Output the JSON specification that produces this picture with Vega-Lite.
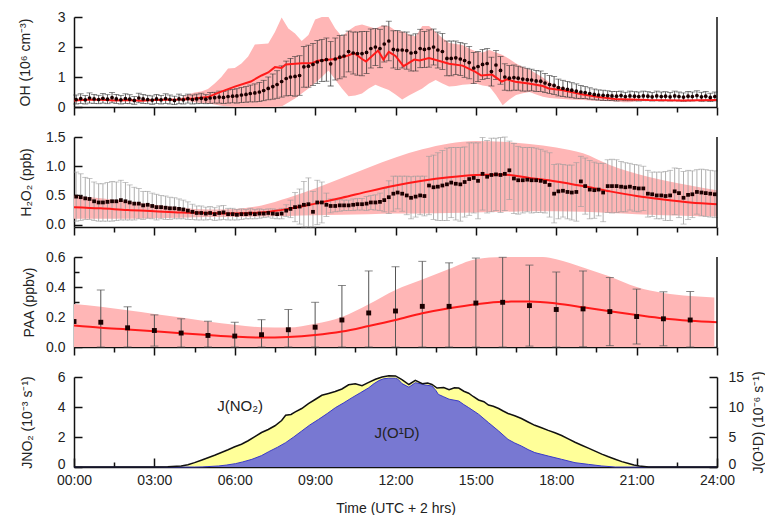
{
"$schema":"https://vega.github.io/schema/vega-lite/v6.json",
"background":"white",
"padding":{"left":18,"top":10,"right":0,"bottom":0},
"autosize":{"type":"pad"},
"config":{"font":"Liberation Sans","view":{"stroke":null},"axis":{"grid":false,"domainColor":"#111111","domainWidth":1.5,"tickColor":"#111111","tickWidth":1.5,"labelFont":"Liberation Sans","labelFontSize":14,"labelColor":"#222222","titleFont":"Liberation Sans","titleFontSize":14,"titleFontWeight":"normal","titleColor":"#222222","zindex":1}},
"datasets":{
"oh":[
{"t":0.08,"v":0.25,"sd":0.15},{"t":0.25,"v":0.28,"sd":0.16},{"t":0.42,"v":0.24,"sd":0.14},{"t":0.58,"v":0.30,"sd":0.17},{"t":0.75,"v":0.27,"sd":0.15},{"t":0.92,"v":0.25,"sd":0.14},
{"t":1.08,"v":0.29,"sd":0.16},{"t":1.25,"v":0.26,"sd":0.15},{"t":1.42,"v":0.31,"sd":0.17},{"t":1.58,"v":0.27,"sd":0.15},{"t":1.75,"v":0.24,"sd":0.14},{"t":1.92,"v":0.28,"sd":0.16},
{"t":2.08,"v":0.26,"sd":0.15},{"t":2.25,"v":0.22,"sd":0.13},{"t":2.42,"v":0.30,"sd":0.16},{"t":2.58,"v":0.27,"sd":0.15},{"t":2.75,"v":0.25,"sd":0.14},{"t":2.92,"v":0.23,"sd":0.14},
{"t":3.08,"v":0.27,"sd":0.15},{"t":3.25,"v":0.24,"sd":0.14},{"t":3.42,"v":0.28,"sd":0.16},{"t":3.58,"v":0.25,"sd":0.15},{"t":3.75,"v":0.22,"sd":0.14},{"t":3.92,"v":0.27,"sd":0.16},
{"t":4.08,"v":0.24,"sd":0.14},{"t":4.25,"v":0.28,"sd":0.15},{"t":4.42,"v":0.25,"sd":0.15},{"t":4.58,"v":0.27,"sd":0.16},{"t":4.75,"v":0.29,"sd":0.17},{"t":4.92,"v":0.26,"sd":0.15},
{"t":5.08,"v":0.30,"sd":0.18},{"t":5.25,"v":0.31,"sd":0.18},{"t":5.42,"v":0.33,"sd":0.20},{"t":5.58,"v":0.32,"sd":0.20},{"t":5.75,"v":0.35,"sd":0.22},{"t":5.92,"v":0.36,"sd":0.22},
{"t":6.08,"v":0.37,"sd":0.24},{"t":6.25,"v":0.40,"sd":0.25},{"t":6.42,"v":0.42,"sd":0.26},{"t":6.58,"v":0.45,"sd":0.28},{"t":6.75,"v":0.47,"sd":0.30},{"t":6.92,"v":0.50,"sd":0.32},
{"t":7.08,"v":0.55,"sd":0.34},{"t":7.25,"v":0.62,"sd":0.38},{"t":7.42,"v":0.68,"sd":0.42},{"t":7.58,"v":0.75,"sd":0.46},{"t":7.75,"v":0.85,"sd":0.52},{"t":7.92,"v":0.95,"sd":0.58},
{"t":8.08,"v":1.00,"sd":0.62},{"t":8.25,"v":1.02,"sd":0.66},{"t":8.42,"v":1.05,"sd":0.66},{"t":8.58,"v":1.34,"sd":0.68},{"t":8.75,"v":1.36,"sd":0.70},{"t":8.92,"v":1.42,"sd":0.70},
{"t":9.08,"v":1.50,"sd":0.72},{"t":9.25,"v":1.55,"sd":0.70},{"t":9.42,"v":1.58,"sd":0.72},{"t":9.58,"v":1.44,"sd":0.74},{"t":9.75,"v":1.60,"sd":0.70},{"t":9.92,"v":1.66,"sd":0.72},
{"t":10.08,"v":1.70,"sd":0.70},{"t":10.25,"v":1.85,"sd":0.68},{"t":10.42,"v":1.80,"sd":0.70},{"t":10.58,"v":1.78,"sd":0.72},{"t":10.75,"v":1.78,"sd":0.74},{"t":10.92,"v":1.82,"sd":0.70},
{"t":11.08,"v":1.95,"sd":0.65},{"t":11.25,"v":2.00,"sd":0.62},{"t":11.42,"v":1.95,"sd":0.64},{"t":11.58,"v":2.10,"sd":0.60},{"t":11.75,"v":2.20,"sd":0.66},{"t":11.92,"v":1.92,"sd":0.62},
{"t":12.08,"v":1.90,"sd":0.65},{"t":12.25,"v":1.90,"sd":0.60},{"t":12.42,"v":1.88,"sd":0.62},{"t":12.58,"v":1.80,"sd":0.60},{"t":12.75,"v":1.82,"sd":0.62},{"t":12.92,"v":1.95,"sd":0.64},
{"t":13.08,"v":1.92,"sd":0.60},{"t":13.25,"v":1.95,"sd":0.62},{"t":13.42,"v":2.00,"sd":0.60},{"t":13.58,"v":1.90,"sd":0.60},{"t":13.75,"v":1.85,"sd":0.60},{"t":13.92,"v":1.62,"sd":0.58},
{"t":14.08,"v":1.62,"sd":0.58},{"t":14.25,"v":1.64,"sd":0.56},{"t":14.42,"v":1.60,"sd":0.55},{"t":14.58,"v":1.55,"sd":0.56},{"t":14.75,"v":1.48,"sd":0.54},{"t":14.92,"v":1.30,"sd":0.52},
{"t":15.08,"v":1.35,"sd":0.50},{"t":15.25,"v":1.42,"sd":0.50},{"t":15.42,"v":1.45,"sd":0.50},{"t":15.58,"v":1.18,"sd":0.48},{"t":15.75,"v":1.40,"sd":0.48},{"t":15.92,"v":1.22,"sd":0.46},
{"t":16.08,"v":1.00,"sd":0.44},{"t":16.25,"v":0.96,"sd":0.42},{"t":16.42,"v":0.98,"sd":0.42},{"t":16.58,"v":0.96,"sd":0.40},{"t":16.75,"v":0.93,"sd":0.40},{"t":16.92,"v":0.91,"sd":0.38},
{"t":17.08,"v":0.90,"sd":0.36},{"t":17.25,"v":0.87,"sd":0.35},{"t":17.42,"v":0.86,"sd":0.34},{"t":17.58,"v":0.80,"sd":0.32},{"t":17.75,"v":0.75,"sd":0.30},{"t":17.92,"v":0.72,"sd":0.30},
{"t":18.08,"v":0.65,"sd":0.28},{"t":18.25,"v":0.62,"sd":0.27},{"t":18.42,"v":0.59,"sd":0.26},{"t":18.58,"v":0.56,"sd":0.25},{"t":18.75,"v":0.53,"sd":0.24},{"t":18.92,"v":0.50,"sd":0.22},
{"t":19.08,"v":0.48,"sd":0.20},{"t":19.25,"v":0.45,"sd":0.19},{"t":19.42,"v":0.42,"sd":0.18},{"t":19.58,"v":0.40,"sd":0.17},{"t":19.75,"v":0.39,"sd":0.17},{"t":19.92,"v":0.38,"sd":0.16},
{"t":20.08,"v":0.37,"sd":0.15},{"t":20.25,"v":0.36,"sd":0.16},{"t":20.42,"v":0.38,"sd":0.15},{"t":20.58,"v":0.35,"sd":0.14},{"t":20.75,"v":0.37,"sd":0.16},{"t":20.92,"v":0.36,"sd":0.15},
{"t":21.08,"v":0.35,"sd":0.15},{"t":21.25,"v":0.37,"sd":0.16},{"t":21.42,"v":0.36,"sd":0.15},{"t":21.58,"v":0.34,"sd":0.14},{"t":21.75,"v":0.37,"sd":0.16},{"t":21.92,"v":0.35,"sd":0.15},
{"t":22.08,"v":0.36,"sd":0.15},{"t":22.25,"v":0.34,"sd":0.14},{"t":22.42,"v":0.37,"sd":0.16},{"t":22.58,"v":0.35,"sd":0.15},{"t":22.75,"v":0.33,"sd":0.14},{"t":22.92,"v":0.36,"sd":0.16},
{"t":23.08,"v":0.35,"sd":0.15},{"t":23.25,"v":0.38,"sd":0.16},{"t":23.42,"v":0.34,"sd":0.15},{"t":23.58,"v":0.36,"sd":0.16},{"t":23.75,"v":0.32,"sd":0.14},{"t":23.92,"v":0.35,"sd":0.15}
],
"ohline":[
{"t":0,"v":0.22},{"t":0.5,"v":0.24},{"t":1,"v":0.24},{"t":1.5,"v":0.22},{"t":2,"v":0.23},{"t":2.5,"v":0.21},{"t":3,"v":0.23},{"t":3.5,"v":0.24},{"t":4,"v":0.25},{"t":4.5,"v":0.28},{"t":5,"v":0.33},{"t":5.4,"v":0.48},{"t":6,"v":0.68},{"t":6.6,"v":0.85},{"t":7,"v":1.05},{"t":7.25,"v":1.15},{"t":7.5,"v":1.33},{"t":7.75,"v":1.3},{"t":7.9,"v":1.42},{"t":8.5,"v":1.46},{"t":8.9,"v":1.47},{"t":9.1,"v":1.54},{"t":9.75,"v":1.6},{"t":10.25,"v":1.72},{"t":10.45,"v":1.8},{"t":10.75,"v":1.6},{"t":10.9,"v":1.52},{"t":11.35,"v":1.88},{"t":11.55,"v":1.58},{"t":11.75,"v":1.84},{"t":12,"v":1.7},{"t":12.3,"v":1.36},{"t":12.7,"v":1.58},{"t":12.9,"v":1.55},{"t":13.25,"v":1.63},{"t":14,"v":1.44},{"t":14.5,"v":1.38},{"t":14.97,"v":1.18},{"t":15.2,"v":1.05},{"t":15.6,"v":1.08},{"t":15.97,"v":0.85},{"t":16.16,"v":0.92},{"t":16.47,"v":0.84},{"t":16.97,"v":0.78},{"t":17.5,"v":0.7},{"t":17.72,"v":0.62},{"t":18.2,"v":0.57},{"t":19,"v":0.42},{"t":19.6,"v":0.33},{"t":20.2,"v":0.27},{"t":21.45,"v":0.23},{"t":22.7,"v":0.22},{"t":24,"v":0.23}
],
"ohband":[
{"t":4.0,"lo":0.22,"hi":0.30},{"t":4.25,"lo":0.20,"hi":0.42},{"t":4.5,"lo":0.16,"hi":0.48},{"t":4.75,"lo":0.13,"hi":0.52},{"t":5.0,"lo":0.12,"hi":0.60},{"t":5.25,"lo":0.08,"hi":0.78},{"t":5.5,"lo":0.04,"hi":1.00},{"t":5.75,"lo":0.02,"hi":1.28},{"t":6.0,"lo":0.0,"hi":1.30},{"t":6.25,"lo":0.0,"hi":1.45},{"t":6.5,"lo":0.0,"hi":1.68},{"t":6.75,"lo":0.0,"hi":2.08},{"t":7.0,"lo":0.0,"hi":2.10},{"t":7.25,"lo":0.0,"hi":2.12},{"t":7.5,"lo":0.0,"hi":2.50},{"t":7.75,"lo":0.02,"hi":2.98},{"t":8.0,"lo":0.15,"hi":2.62},{"t":8.25,"lo":0.28,"hi":2.45},{"t":8.5,"lo":0.45,"hi":2.20},{"t":8.75,"lo":0.62,"hi":2.40},{"t":9.0,"lo":0.80,"hi":2.92},{"t":9.25,"lo":1.00,"hi":3.0},{"t":9.5,"lo":1.22,"hi":3.0},{"t":9.75,"lo":0.92,"hi":2.62},{"t":10.0,"lo":0.62,"hi":2.35},{"t":10.25,"lo":0.36,"hi":2.55},{"t":10.5,"lo":0.38,"hi":2.70},{"t":10.75,"lo":0.45,"hi":2.75},{"t":11.0,"lo":0.62,"hi":2.68},{"t":11.25,"lo":0.74,"hi":2.62},{"t":11.5,"lo":0.65,"hi":2.72},{"t":11.75,"lo":0.57,"hi":2.70},{"t":12.0,"lo":0.42,"hi":2.55},{"t":12.25,"lo":0.25,"hi":2.52},{"t":12.5,"lo":0.38,"hi":2.42},{"t":12.75,"lo":0.50,"hi":2.35},{"t":13.0,"lo":0.62,"hi":2.70},{"t":13.25,"lo":0.78,"hi":2.70},{"t":13.5,"lo":0.90,"hi":2.50},{"t":13.75,"lo":0.78,"hi":2.30},{"t":14.0,"lo":0.68,"hi":2.13},{"t":14.25,"lo":0.70,"hi":2.10},{"t":14.5,"lo":0.74,"hi":2.07},{"t":14.75,"lo":0.76,"hi":1.95},{"t":15.0,"lo":0.78,"hi":1.85},{"t":15.25,"lo":0.72,"hi":1.82},{"t":15.5,"lo":0.68,"hi":1.90},{"t":15.75,"lo":0.40,"hi":1.82},{"t":16.0,"lo":0.06,"hi":1.73},{"t":16.25,"lo":0.25,"hi":1.60},{"t":16.5,"lo":0.40,"hi":1.45},{"t":16.75,"lo":0.46,"hi":1.33},{"t":17.0,"lo":0.50,"hi":1.25},{"t":17.25,"lo":0.42,"hi":1.12},{"t":17.5,"lo":0.34,"hi":0.98},{"t":17.75,"lo":0.30,"hi":0.82},{"t":18.0,"lo":0.28,"hi":0.72},{"t":18.25,"lo":0.27,"hi":0.64},{"t":18.5,"lo":0.25,"hi":0.56},{"t":18.75,"lo":0.24,"hi":0.50},{"t":19.0,"lo":0.23,"hi":0.45},{"t":19.25,"lo":0.22,"hi":0.40},{"t":19.5,"lo":0.21,"hi":0.34},{"t":19.75,"lo":0.20,"hi":0.30},{"t":20.0,"lo":0.19,"hi":0.27},{"t":20.25,"lo":0.18,"hi":0.25},{"t":20.5,"lo":0.16,"hi":0.23},{"t":20.75,"lo":0.16,"hi":0.22},{"t":21.0,"lo":0.19,"hi":0.21}
],
"h2o2":[
{"t":0.08,"v":0.48,"sd":0.42},{"t":0.25,"v":0.47,"sd":0.40},{"t":0.42,"v":0.45,"sd":0.36},{"t":0.58,"v":0.44,"sd":0.35},{"t":0.75,"v":0.40,"sd":0.33},{"t":0.92,"v":0.38,"sd":0.32},
{"t":1.08,"v":0.38,"sd":0.32},{"t":1.25,"v":0.39,"sd":0.33},{"t":1.42,"v":0.40,"sd":0.34},{"t":1.58,"v":0.40,"sd":0.33},{"t":1.75,"v":0.42,"sd":0.34},{"t":1.92,"v":0.40,"sd":0.32},
{"t":2.08,"v":0.38,"sd":0.30},{"t":2.25,"v":0.36,"sd":0.28},{"t":2.42,"v":0.36,"sd":0.26},{"t":2.58,"v":0.33,"sd":0.24},{"t":2.75,"v":0.34,"sd":0.23},{"t":2.92,"v":0.32,"sd":0.22},
{"t":3.08,"v":0.30,"sd":0.22},{"t":3.25,"v":0.30,"sd":0.20},{"t":3.42,"v":0.29,"sd":0.20},{"t":3.58,"v":0.28,"sd":0.19},{"t":3.75,"v":0.28,"sd":0.18},{"t":3.92,"v":0.27,"sd":0.17},
{"t":4.08,"v":0.26,"sd":0.16},{"t":4.25,"v":0.24,"sd":0.15},{"t":4.42,"v":0.22,"sd":0.13},{"t":4.58,"v":0.20,"sd":0.12},{"t":4.75,"v":0.20,"sd":0.12},{"t":4.92,"v":0.19,"sd":0.11},
{"t":5.08,"v":0.20,"sd":0.11},{"t":5.25,"v":0.18,"sd":0.11},{"t":5.42,"v":0.20,"sd":0.12},{"t":5.58,"v":0.21,"sd":0.12},{"t":5.75,"v":0.18,"sd":0.10},{"t":5.92,"v":0.18,"sd":0.10},
{"t":6.08,"v":0.17,"sd":0.09},{"t":6.25,"v":0.18,"sd":0.09},{"t":6.42,"v":0.18,"sd":0.08},{"t":6.58,"v":0.19,"sd":0.09},{"t":6.75,"v":0.18,"sd":0.08},{"t":6.92,"v":0.19,"sd":0.08},
{"t":7.08,"v":0.19,"sd":0.07},{"t":7.25,"v":0.20,"sd":0.07},{"t":7.42,"v":0.19,"sd":0.08},{"t":7.58,"v":0.18,"sd":0.08},{"t":7.75,"v":0.19,"sd":0.09},{"t":7.92,"v":0.24,"sd":0.10},
{"t":8.08,"v":0.27,"sd":0.15},{"t":8.25,"v":0.30,"sd":0.25},{"t":8.42,"v":0.31,"sd":0.30},{"t":8.58,"v":0.34,"sd":0.40},{"t":8.75,"v":0.35,"sd":0.45},{"t":8.92,"v":0.22,"sd":0.35},
{"t":9.08,"v":0.38,"sd":0.38},{"t":9.25,"v":0.38,"sd":0.35},{"t":9.42,"v":0.34,"sd":0.20},{"t":9.58,"v":0.32,"sd":0.12},{"t":9.75,"v":0.32,"sd":0.10},{"t":9.92,"v":0.33,"sd":0.10},
{"t":10.08,"v":0.33,"sd":0.09},{"t":10.25,"v":0.33,"sd":0.09},{"t":10.42,"v":0.34,"sd":0.10},{"t":10.58,"v":0.35,"sd":0.10},{"t":10.75,"v":0.35,"sd":0.10},{"t":10.92,"v":0.36,"sd":0.12},
{"t":11.08,"v":0.38,"sd":0.12},{"t":11.25,"v":0.38,"sd":0.13},{"t":11.42,"v":0.39,"sd":0.15},{"t":11.58,"v":0.42,"sd":0.20},{"t":11.75,"v":0.47,"sd":0.28},{"t":11.92,"v":0.53,"sd":0.30},
{"t":12.08,"v":0.55,"sd":0.28},{"t":12.25,"v":0.53,"sd":0.30},{"t":12.42,"v":0.50,"sd":0.33},{"t":12.58,"v":0.46,"sd":0.36},{"t":12.75,"v":0.48,"sd":0.35},{"t":12.92,"v":0.50,"sd":0.33},
{"t":13.08,"v":0.49,"sd":0.34},{"t":13.25,"v":0.67,"sd":0.50},{"t":13.42,"v":0.64,"sd":0.55},{"t":13.58,"v":0.65,"sd":0.58},{"t":13.75,"v":0.67,"sd":0.60},{"t":13.92,"v":0.69,"sd":0.62},
{"t":14.08,"v":0.72,"sd":0.60},{"t":14.25,"v":0.70,"sd":0.62},{"t":14.42,"v":0.69,"sd":0.63},{"t":14.58,"v":0.73,"sd":0.60},{"t":14.75,"v":0.78,"sd":0.62},{"t":14.92,"v":0.80,"sd":0.60},
{"t":15.08,"v":0.75,"sd":0.65},{"t":15.25,"v":0.87,"sd":0.62},{"t":15.42,"v":0.82,"sd":0.62},{"t":15.58,"v":0.85,"sd":0.63},{"t":15.75,"v":0.86,"sd":0.62},{"t":15.92,"v":0.85,"sd":0.64},
{"t":16.08,"v":0.87,"sd":0.63},{"t":16.25,"v":0.93,"sd":0.50},{"t":16.42,"v":0.79,"sd":0.60},{"t":16.58,"v":0.76,"sd":0.58},{"t":16.75,"v":0.76,"sd":0.56},{"t":16.92,"v":0.77,"sd":0.55},
{"t":17.08,"v":0.76,"sd":0.56},{"t":17.25,"v":0.76,"sd":0.55},{"t":17.42,"v":0.75,"sd":0.54},{"t":17.58,"v":0.73,"sd":0.53},{"t":17.75,"v":0.68,"sd":0.55},{"t":17.92,"v":0.53,"sd":0.50},
{"t":18.08,"v":0.57,"sd":0.47},{"t":18.25,"v":0.58,"sd":0.45},{"t":18.42,"v":0.56,"sd":0.46},{"t":18.58,"v":0.55,"sd":0.47},{"t":18.75,"v":0.56,"sd":0.50},{"t":18.92,"v":0.74,"sd":0.43},
{"t":19.08,"v":0.66,"sd":0.48},{"t":19.25,"v":0.60,"sd":0.50},{"t":19.42,"v":0.59,"sd":0.48},{"t":19.58,"v":0.60,"sd":0.45},{"t":19.75,"v":0.55,"sd":0.50},{"t":19.92,"v":0.66,"sd":0.45},
{"t":20.08,"v":0.66,"sd":0.46},{"t":20.25,"v":0.66,"sd":0.45},{"t":20.42,"v":0.65,"sd":0.43},{"t":20.58,"v":0.64,"sd":0.42},{"t":20.75,"v":0.65,"sd":0.40},{"t":20.92,"v":0.63,"sd":0.40},
{"t":21.08,"v":0.62,"sd":0.40},{"t":21.25,"v":0.62,"sd":0.38},{"t":21.42,"v":0.53,"sd":0.40},{"t":21.58,"v":0.52,"sd":0.38},{"t":21.75,"v":0.50,"sd":0.40},{"t":21.92,"v":0.50,"sd":0.40},
{"t":22.08,"v":0.49,"sd":0.42},{"t":22.25,"v":0.50,"sd":0.43},{"t":22.42,"v":0.57,"sd":0.40},{"t":22.58,"v":0.54,"sd":0.42},{"t":22.75,"v":0.46,"sd":0.45},{"t":22.92,"v":0.51,"sd":0.42},
{"t":23.08,"v":0.52,"sd":0.40},{"t":23.25,"v":0.56,"sd":0.38},{"t":23.42,"v":0.55,"sd":0.40},{"t":23.58,"v":0.54,"sd":0.40},{"t":23.75,"v":0.53,"sd":0.40},{"t":23.92,"v":0.52,"sd":0.40}
],
"h2o2line":[
{"t":0,"v":0.30},{"t":1,"v":0.28},{"t":2,"v":0.25},{"t":3,"v":0.23},{"t":4,"v":0.21},{"t":5,"v":0.20},{"t":6,"v":0.19},{"t":7,"v":0.21},{"t":8,"v":0.27},{"t":9,"v":0.36},{"t":10,"v":0.46},{"t":11,"v":0.57},{"t":12,"v":0.67},{"t":13,"v":0.75},{"t":14,"v":0.81},{"t":15,"v":0.85},{"t":16,"v":0.86},{"t":17,"v":0.80},{"t":18,"v":0.74},{"t":19,"v":0.66},{"t":20,"v":0.57},{"t":21,"v":0.49},{"t":22,"v":0.43},{"t":23,"v":0.38},{"t":24,"v":0.35}
],
"h2o2band":[
{"t":0,"lo":0.10,"hi":0.50},{"t":1,"lo":0.10,"hi":0.45},{"t":2,"lo":0.10,"hi":0.40},{"t":3,"lo":0.11,"hi":0.34},{"t":4,"lo":0.12,"hi":0.29},{"t":5,"lo":0.13,"hi":0.26},{"t":6,"lo":0.13,"hi":0.27},{"t":7,"lo":0.14,"hi":0.33},{"t":8,"lo":0.15,"hi":0.46},{"t":9,"lo":0.16,"hi":0.62},{"t":10,"lo":0.17,"hi":0.80},{"t":11,"lo":0.18,"hi":0.98},{"t":12,"lo":0.19,"hi":1.15},{"t":13,"lo":0.19,"hi":1.29},{"t":14,"lo":0.20,"hi":1.39},{"t":15,"lo":0.21,"hi":1.43},{"t":16,"lo":0.22,"hi":1.42},{"t":17,"lo":0.23,"hi":1.38},{"t":18,"lo":0.23,"hi":1.32},{"t":19,"lo":0.22,"hi":1.22},{"t":20,"lo":0.20,"hi":1.02},{"t":21,"lo":0.18,"hi":0.87},{"t":22,"lo":0.16,"hi":0.76},{"t":23,"lo":0.15,"hi":0.67},{"t":24,"lo":0.14,"hi":0.59}
],
"paa":[
{"t":0,"v":0.17,"sd":0},{"t":1,"v":0.165,"sd":0.215},{"t":2,"v":0.128,"sd":0.14},{"t":3,"v":0.11,"sd":0.104},{"t":4,"v":0.093,"sd":0.095},{"t":5,"v":0.077,"sd":0.095},{"t":6,"v":0.073,"sd":0.092},{"t":7,"v":0.082,"sd":0.10},{"t":8,"v":0.115,"sd":0.135},{"t":9,"v":0.132,"sd":0.166},{"t":10,"v":0.18,"sd":0.23},{"t":11,"v":0.227,"sd":0.28},{"t":12,"v":0.24,"sd":0.295},{"t":13,"v":0.271,"sd":0.30},{"t":14,"v":0.271,"sd":0.29},{"t":15,"v":0.293,"sd":0.30},{"t":16,"v":0.298,"sd":0.30},{"t":17,"v":0.276,"sd":0.27},{"t":18,"v":0.25,"sd":0.25},{"t":19,"v":0.254,"sd":0.253},{"t":20,"v":0.236,"sd":0.227},{"t":21,"v":0.203,"sd":0.183},{"t":22,"v":0.188,"sd":0.18},{"t":23,"v":0.18,"sd":0.19}
],
"paaline":[
{"t":0,"v":0.143},{"t":1,"v":0.128},{"t":2,"v":0.117},{"t":3,"v":0.105},{"t":4,"v":0.092},{"t":5,"v":0.08},{"t":6,"v":0.069},{"t":7,"v":0.063},{"t":8,"v":0.067},{"t":9,"v":0.08},{"t":10,"v":0.103},{"t":11,"v":0.14},{"t":12,"v":0.18},{"t":13,"v":0.225},{"t":14,"v":0.258},{"t":15,"v":0.285},{"t":16,"v":0.302},{"t":17,"v":0.303},{"t":18,"v":0.29},{"t":19,"v":0.265},{"t":20,"v":0.238},{"t":21,"v":0.213},{"t":22,"v":0.19},{"t":23,"v":0.175},{"t":24,"v":0.165}
],
"paaband":[
{"t":0,"lo":0,"hi":0.287},{"t":1,"lo":0,"hi":0.268},{"t":2,"lo":0,"hi":0.245},{"t":3,"lo":0,"hi":0.22},{"t":4,"lo":0,"hi":0.196},{"t":5,"lo":0,"hi":0.17},{"t":6,"lo":0,"hi":0.148},{"t":7,"lo":0,"hi":0.132},{"t":8,"lo":0,"hi":0.13},{"t":9,"lo":0,"hi":0.155},{"t":10,"lo":0,"hi":0.2},{"t":11,"lo":0,"hi":0.285},{"t":12,"lo":0,"hi":0.38},{"t":13,"lo":0,"hi":0.45},{"t":14,"lo":0,"hi":0.52},{"t":15,"lo":0,"hi":0.585},{"t":16,"lo":0,"hi":0.6},{"t":17,"lo":0,"hi":0.6},{"t":17.5,"lo":0,"hi":0.6},{"t":18,"lo":0,"hi":0.585},{"t":18.5,"lo":0,"hi":0.56},{"t":19,"lo":0,"hi":0.53},{"t":20,"lo":0,"hi":0.47},{"t":21,"lo":0,"hi":0.4},{"t":22,"lo":0,"hi":0.36},{"t":23,"lo":0,"hi":0.34},{"t":23.9,"lo":0,"hi":0.33}
],
"jno2":[
{"t":0,"v":0},{"t":3.0,"v":0},{"t":3.5,"v":0.01},{"t":4.0,"v":0.07},{"t":4.25,"v":0.15},{"t":4.5,"v":0.29},{"t":4.75,"v":0.45},{"t":5.0,"v":0.62},{"t":5.25,"v":0.78},{"t":5.5,"v":0.97},{"t":5.75,"v":1.15},{"t":6.0,"v":1.35},{"t":6.25,"v":1.52},{"t":6.5,"v":1.75},{"t":6.75,"v":2.02},{"t":7.0,"v":2.3},{"t":7.25,"v":2.5},{"t":7.5,"v":2.75},{"t":7.75,"v":3.1},{"t":7.9,"v":3.45},{"t":8.1,"v":3.5},{"t":8.26,"v":3.68},{"t":8.5,"v":3.9},{"t":8.75,"v":4.22},{"t":9.0,"v":4.5},{"t":9.25,"v":4.78},{"t":9.5,"v":4.9},{"t":9.75,"v":5.03},{"t":10.0,"v":5.2},{"t":10.25,"v":5.48},{"t":10.5,"v":5.55},{"t":10.75,"v":5.42},{"t":11.0,"v":5.64},{"t":11.25,"v":5.85},{"t":11.5,"v":6.0},{"t":11.75,"v":6.08},{"t":12.0,"v":6.07},{"t":12.24,"v":5.82},{"t":12.5,"v":5.5},{"t":12.74,"v":5.78},{"t":13.0,"v":5.55},{"t":13.2,"v":5.6},{"t":13.36,"v":5.5},{"t":13.55,"v":5.26},{"t":13.8,"v":5.3},{"t":14.0,"v":5.15},{"t":14.2,"v":5.28},{"t":14.36,"v":5.26},{"t":14.55,"v":5.05},{"t":14.73,"v":4.92},{"t":14.9,"v":4.7},{"t":15.1,"v":4.47},{"t":15.3,"v":4.35},{"t":15.47,"v":4.13},{"t":15.65,"v":4.05},{"t":15.85,"v":3.9},{"t":16.0,"v":3.75},{"t":16.2,"v":3.57},{"t":16.45,"v":3.42},{"t":16.7,"v":3.23},{"t":16.95,"v":3.0},{"t":17.2,"v":2.78},{"t":17.45,"v":2.62},{"t":17.7,"v":2.44},{"t":17.95,"v":2.28},{"t":18.2,"v":2.1},{"t":18.45,"v":1.88},{"t":18.7,"v":1.65},{"t":18.95,"v":1.45},{"t":19.2,"v":1.26},{"t":19.45,"v":1.06},{"t":19.7,"v":0.86},{"t":19.95,"v":0.68},{"t":20.2,"v":0.52},{"t":20.45,"v":0.36},{"t":20.7,"v":0.23},{"t":20.9,"v":0.13},{"t":21.1,"v":0.06},{"t":21.45,"v":0.0},{"t":24,"v":0}
],
"jo1d":[
{"t":0,"v":0},{"t":4.5,"v":0},{"t":4.78,"v":0.02},{"t":5.0,"v":0.07},{"t":5.4,"v":0.17},{"t":5.7,"v":0.33},{"t":6.03,"v":0.56},{"t":6.3,"v":0.85},{"t":6.64,"v":1.28},{"t":7.0,"v":1.9},{"t":7.27,"v":2.56},{"t":7.6,"v":3.3},{"t":7.9,"v":4.06},{"t":8.2,"v":5.0},{"t":8.5,"v":6.0},{"t":8.8,"v":7.0},{"t":9.13,"v":7.94},{"t":9.45,"v":8.9},{"t":9.76,"v":9.9},{"t":10.07,"v":10.7},{"t":10.38,"v":11.56},{"t":10.7,"v":12.4},{"t":11.0,"v":13.2},{"t":11.2,"v":13.9},{"t":11.38,"v":14.4},{"t":11.55,"v":14.7},{"t":11.75,"v":14.8},{"t":12.0,"v":14.8},{"t":12.1,"v":14.6},{"t":12.24,"v":13.9},{"t":12.5,"v":13.3},{"t":12.74,"v":14.05},{"t":13.0,"v":13.8},{"t":13.1,"v":13.67},{"t":13.36,"v":13.5},{"t":13.5,"v":12.8},{"t":13.6,"v":12.1},{"t":13.8,"v":11.7},{"t":14.0,"v":11.3},{"t":14.36,"v":11.0},{"t":14.55,"v":10.4},{"t":14.73,"v":9.9},{"t":15.1,"v":8.8},{"t":15.47,"v":7.4},{"t":15.85,"v":6.0},{"t":16.2,"v":4.6},{"t":16.45,"v":4.0},{"t":16.7,"v":3.5},{"t":16.95,"v":2.9},{"t":17.2,"v":2.4},{"t":17.7,"v":1.83},{"t":18.2,"v":1.28},{"t":18.7,"v":0.72},{"t":19.2,"v":0.44},{"t":19.7,"v":0.17},{"t":20.2,"v":0.0},{"t":24,"v":0}
],
"jlabels":[
{"t":6.2,"v":4.1,"label":"J(NO₂)"},{"t":12.06,"v":2.3,"label":"J(O¹D)"}
]
},
"spacing":30,
"bounds":"flush",
"resolve":{"scale":{"x":"independent","y":"independent"},"axis":{"x":"independent","y":"independent"}},
"vconcat":[
{"width":643,"height":90,"layer":[
{"data":{"name":"ohband"},"mark":{"type":"area","color":"#ffb6b6","opacity":1},"encoding":{
"x":{"field":"t","type":"quantitative","scale":{"domain":[0,24],"nice":false},"axis":{"values":[0,1.5,3,4.5,6,7.5,9,10.5,12,13.5,15,16.5,18,19.5,21,22.5,24],"labels":false,"title":null,"tickSize":{"condition":{"test":"datum.value % 3 === 0","value":8},"value":5}}},
"y":{"field":"lo","type":"quantitative","scale":{"domain":[0,3],"nice":false,"clamp":true},"axis":{"values":[0,1,2,3],"tickSize":-8,"labelPadding":17,"title":"OH (10⁶ cm⁻³)","titlePadding":25}},
"y2":{"field":"hi"}}},
{"data":{"name":"oh"},"mark":{"type":"errorbar","ticks":true,"size":6,"thickness":0.8,"color":"#333333"},"encoding":{
"x":{"field":"t","type":"quantitative","scale":{"domain":[0,24],"nice":false},"axis":{"values":[0,1.5,3,4.5,6,7.5,9,10.5,12,13.5,15,16.5,18,19.5,21,22.5,24],"labels":false,"title":null,"tickSize":{"condition":{"test":"datum.value % 3 === 0","value":8},"value":5}}},
"y":{"field":"v","type":"quantitative","scale":{"domain":[0,3],"nice":false,"clamp":true},"axis":{"values":[0,1,2,3],"tickSize":-8,"labelPadding":17,"title":"OH (10⁶ cm⁻³)","titlePadding":25}},
"yError":{"field":"sd"}}},
{"data":{"name":"ohline"},"mark":{"type":"line","color":"#ff1a1a","strokeWidth":2},"encoding":{
"x":{"field":"t","type":"quantitative","scale":{"domain":[0,24],"nice":false},"axis":{"values":[0,1.5,3,4.5,6,7.5,9,10.5,12,13.5,15,16.5,18,19.5,21,22.5,24],"labels":false,"title":null,"tickSize":{"condition":{"test":"datum.value % 3 === 0","value":8},"value":5}}},
"y":{"field":"v","type":"quantitative","scale":{"domain":[0,3],"nice":false,"clamp":true},"axis":{"values":[0,1,2,3],"tickSize":-8,"labelPadding":17,"title":"OH (10⁶ cm⁻³)","titlePadding":25}}}},
{"data":{"name":"oh"},"mark":{"type":"circle","size":14,"color":"#1a0000","opacity":1},"encoding":{
"x":{"field":"t","type":"quantitative","scale":{"domain":[0,24],"nice":false},"axis":{"values":[0,1.5,3,4.5,6,7.5,9,10.5,12,13.5,15,16.5,18,19.5,21,22.5,24],"labels":false,"title":null,"tickSize":{"condition":{"test":"datum.value % 3 === 0","value":8},"value":5}}},
"y":{"field":"v","type":"quantitative","scale":{"domain":[0,3],"nice":false,"clamp":true},"axis":{"values":[0,1,2,3],"tickSize":-8,"labelPadding":17,"title":"OH (10⁶ cm⁻³)","titlePadding":25}}}},
{"data":{"values":[{}]},"mark":{"type":"rule","color":"#111111","strokeWidth":1.5},"encoding":{
"x":{"datum":24,"type":"quantitative","scale":{"domain":[0,24],"nice":false},"axis":{"values":[0,1.5,3,4.5,6,7.5,9,10.5,12,13.5,15,16.5,18,19.5,21,22.5,24],"labels":false,"title":null,"tickSize":{"condition":{"test":"datum.value % 3 === 0","value":8},"value":5}}}}}
]},
{"width":643,"height":90,"layer":[
{"data":{"name":"h2o2band"},"mark":{"type":"area","color":"#ffb6b6","opacity":1,"interpolate":"monotone"},"encoding":{
"x":{"field":"t","type":"quantitative","scale":{"domain":[0,24],"nice":false},"axis":{"values":[0,1.5,3,4.5,6,7.5,9,10.5,12,13.5,15,16.5,18,19.5,21,22.5,24],"labels":false,"title":null,"tickSize":{"condition":{"test":"datum.value % 3 === 0","value":8},"value":5}}},
"y":{"field":"lo","type":"quantitative","scale":{"domain":[-0.04,1.5],"nice":false,"clamp":true},"axis":{"values":[0,0.5,1,1.5],"format":".1f","tickSize":-8,"labelPadding":17,"title":"H₂O₂ (ppb)","titlePadding":12}},
"y2":{"field":"hi"}}},
{"data":{"name":"h2o2"},"mark":{"type":"errorbar","ticks":true,"size":6,"thickness":0.8,"color":"#9a9a9a"},"encoding":{
"x":{"field":"t","type":"quantitative","scale":{"domain":[0,24],"nice":false},"axis":{"values":[0,1.5,3,4.5,6,7.5,9,10.5,12,13.5,15,16.5,18,19.5,21,22.5,24],"labels":false,"title":null,"tickSize":{"condition":{"test":"datum.value % 3 === 0","value":8},"value":5}}},
"y":{"field":"v","type":"quantitative","scale":{"domain":[-0.04,1.5],"nice":false,"clamp":true},"axis":{"values":[0,0.5,1,1.5],"format":".1f","tickSize":-8,"labelPadding":17,"title":"H₂O₂ (ppb)","titlePadding":12}},
"yError":{"field":"sd"}}},
{"data":{"name":"h2o2line"},"mark":{"type":"line","color":"#ff1a1a","strokeWidth":2,"interpolate":"monotone"},"encoding":{
"x":{"field":"t","type":"quantitative","scale":{"domain":[0,24],"nice":false},"axis":{"values":[0,1.5,3,4.5,6,7.5,9,10.5,12,13.5,15,16.5,18,19.5,21,22.5,24],"labels":false,"title":null,"tickSize":{"condition":{"test":"datum.value % 3 === 0","value":8},"value":5}}},
"y":{"field":"v","type":"quantitative","scale":{"domain":[-0.04,1.5],"nice":false,"clamp":true},"axis":{"values":[0,0.5,1,1.5],"format":".1f","tickSize":-8,"labelPadding":17,"title":"H₂O₂ (ppb)","titlePadding":12}}}},
{"data":{"name":"h2o2"},"mark":{"type":"square","size":14,"color":"#1a0000","opacity":1},"encoding":{
"x":{"field":"t","type":"quantitative","scale":{"domain":[0,24],"nice":false},"axis":{"values":[0,1.5,3,4.5,6,7.5,9,10.5,12,13.5,15,16.5,18,19.5,21,22.5,24],"labels":false,"title":null,"tickSize":{"condition":{"test":"datum.value % 3 === 0","value":8},"value":5}}},
"y":{"field":"v","type":"quantitative","scale":{"domain":[-0.04,1.5],"nice":false,"clamp":true},"axis":{"values":[0,0.5,1,1.5],"format":".1f","tickSize":-8,"labelPadding":17,"title":"H₂O₂ (ppb)","titlePadding":12}}}},
{"data":{"values":[{}]},"mark":{"type":"rule","color":"#111111","strokeWidth":1.5},"encoding":{
"x":{"datum":24,"type":"quantitative","scale":{"domain":[0,24],"nice":false},"axis":{"values":[0,1.5,3,4.5,6,7.5,9,10.5,12,13.5,15,16.5,18,19.5,21,22.5,24],"labels":false,"title":null,"tickSize":{"condition":{"test":"datum.value % 3 === 0","value":8},"value":5}}}}}
]},
{"width":643,"height":90,"layer":[
{"data":{"name":"paaband"},"mark":{"type":"area","color":"#ffb6b6","opacity":1,"interpolate":"monotone"},"encoding":{
"x":{"field":"t","type":"quantitative","scale":{"domain":[0,24],"nice":false},"axis":{"values":[0,1.5,3,4.5,6,7.5,9,10.5,12,13.5,15,16.5,18,19.5,21,22.5,24],"labels":false,"title":null,"tickSize":{"condition":{"test":"datum.value % 3 === 0","value":8},"value":5}}},
"y":{"field":"lo","type":"quantitative","scale":{"domain":[0,0.6],"nice":false,"clamp":true},"axis":{"values":[0,0.1,0.2,0.3,0.4,0.5,0.6],"labelExpr":"round(datum.value*10) % 2 === 0 ? format(datum.value, '.1f') : ''","tickSize":{"condition":{"test":"round(datum.value*10) % 2 === 0","value":-8},"value":-5},"labelPadding":17,"title":"PAA (ppbv)","titlePadding":9}},
"y2":{"field":"hi"}}},
{"data":{"name":"paa"},"transform":[{"filter":"datum.t > 0"}],"mark":{"type":"errorbar","ticks":true,"size":8,"thickness":1,"color":"#555555"},"encoding":{
"x":{"field":"t","type":"quantitative","scale":{"domain":[0,24],"nice":false},"axis":{"values":[0,1.5,3,4.5,6,7.5,9,10.5,12,13.5,15,16.5,18,19.5,21,22.5,24],"labels":false,"title":null,"tickSize":{"condition":{"test":"datum.value % 3 === 0","value":8},"value":5}}},
"y":{"field":"v","type":"quantitative","scale":{"domain":[0,0.6],"nice":false,"clamp":true},"axis":{"values":[0,0.1,0.2,0.3,0.4,0.5,0.6],"labelExpr":"round(datum.value*10) % 2 === 0 ? format(datum.value, '.1f') : ''","tickSize":{"condition":{"test":"round(datum.value*10) % 2 === 0","value":-8},"value":-5},"labelPadding":17,"title":"PAA (ppbv)","titlePadding":9}},
"yError":{"field":"sd"}}},
{"data":{"name":"paaline"},"mark":{"type":"line","color":"#ff1a1a","strokeWidth":2,"interpolate":"monotone"},"encoding":{
"x":{"field":"t","type":"quantitative","scale":{"domain":[0,24],"nice":false},"axis":{"values":[0,1.5,3,4.5,6,7.5,9,10.5,12,13.5,15,16.5,18,19.5,21,22.5,24],"labels":false,"title":null,"tickSize":{"condition":{"test":"datum.value % 3 === 0","value":8},"value":5}}},
"y":{"field":"v","type":"quantitative","scale":{"domain":[0,0.6],"nice":false,"clamp":true},"axis":{"values":[0,0.1,0.2,0.3,0.4,0.5,0.6],"labelExpr":"round(datum.value*10) % 2 === 0 ? format(datum.value, '.1f') : ''","tickSize":{"condition":{"test":"round(datum.value*10) % 2 === 0","value":-8},"value":-5},"labelPadding":17,"title":"PAA (ppbv)","titlePadding":9}}}},
{"data":{"name":"paa"},"mark":{"type":"square","size":24,"color":"#1a0000","opacity":1,"clip":true},"encoding":{
"x":{"field":"t","type":"quantitative","scale":{"domain":[0,24],"nice":false},"axis":{"values":[0,1.5,3,4.5,6,7.5,9,10.5,12,13.5,15,16.5,18,19.5,21,22.5,24],"labels":false,"title":null,"tickSize":{"condition":{"test":"datum.value % 3 === 0","value":8},"value":5}}},
"y":{"field":"v","type":"quantitative","scale":{"domain":[0,0.6],"nice":false,"clamp":true},"axis":{"values":[0,0.1,0.2,0.3,0.4,0.5,0.6],"labelExpr":"round(datum.value*10) % 2 === 0 ? format(datum.value, '.1f') : ''","tickSize":{"condition":{"test":"round(datum.value*10) % 2 === 0","value":-8},"value":-5},"labelPadding":17,"title":"PAA (ppbv)","titlePadding":9}}}},
{"data":{"values":[{}]},"mark":{"type":"rule","color":"#111111","strokeWidth":1.5},"encoding":{
"x":{"datum":24,"type":"quantitative","scale":{"domain":[0,24],"nice":false},"axis":{"values":[0,1.5,3,4.5,6,7.5,9,10.5,12,13.5,15,16.5,18,19.5,21,22.5,24],"labels":false,"title":null,"tickSize":{"condition":{"test":"datum.value % 3 === 0","value":8},"value":5}}}}}
]},
{"width":643,"height":90,"resolve":{"scale":{"y":"independent"},"axis":{"y":"independent"}},"layer":[
{"data":{"name":"jno2"},"mark":{"type":"area","color":"#ffff99","opacity":1},"encoding":{
"x":{"field":"t","type":"quantitative","scale":{"domain":[0,24],"nice":false},"axis":{"values":[0,1.5,3,4.5,6,7.5,9,10.5,12,13.5,15,16.5,18,19.5,21,22.5,24],"labelExpr":"datum.value % 3 === 0 ? ((datum.value < 10 ? '0' : '') + datum.value + ':00') : ''","labelFlush":false,"labelOverlap":false,"labelPadding":15,"tickSize":{"condition":{"test":"datum.value % 3 === 0","value":-9},"value":-5},"title":"Time (UTC + 2 hrs)","titlePadding":10}},
"y":{"field":"v","type":"quantitative","scale":{"domain":[0,6],"nice":false},"axis":{"values":[0,2,4,6],"tickSize":-8,"labelPadding":17,"labelOffset":{"condition":{"test":"datum.value === 0","value":-3},"value":0},"title":"JNO₂ (10⁻³ s⁻¹)","titlePadding":23}}}},
{"data":{"name":"jo1d"},"mark":{"type":"area","color":"#7878d2","opacity":1},"encoding":{
"x":{"field":"t","type":"quantitative","scale":{"domain":[0,24],"nice":false},"axis":{"values":[0,1.5,3,4.5,6,7.5,9,10.5,12,13.5,15,16.5,18,19.5,21,22.5,24],"labelExpr":"datum.value % 3 === 0 ? ((datum.value < 10 ? '0' : '') + datum.value + ':00') : ''","labelFlush":false,"labelOverlap":false,"labelPadding":15,"tickSize":{"condition":{"test":"datum.value % 3 === 0","value":-9},"value":-5},"title":"Time (UTC + 2 hrs)","titlePadding":10}},
"y":{"field":"v","type":"quantitative","scale":{"domain":[0,15],"nice":false},"axis":{"orient":"right","values":[0,5,10,15],"tickSize":-8,"labelPadding":19,"labelOffset":{"condition":{"test":"datum.value === 0","value":-3},"value":0},"title":"J(O¹D) (10⁻⁶ s⁻¹)","titlePadding":8,"titleAngle":-90,"titleBaseline":"top"}}}},
{"data":{"name":"jo1d"},"mark":{"type":"line","color":"#3a3ac8","strokeWidth":1},"encoding":{
"x":{"field":"t","type":"quantitative","scale":{"domain":[0,24],"nice":false},"axis":{"values":[0,1.5,3,4.5,6,7.5,9,10.5,12,13.5,15,16.5,18,19.5,21,22.5,24],"labelExpr":"datum.value % 3 === 0 ? ((datum.value < 10 ? '0' : '') + datum.value + ':00') : ''","labelFlush":false,"labelOverlap":false,"labelPadding":15,"tickSize":{"condition":{"test":"datum.value % 3 === 0","value":-9},"value":-5},"title":"Time (UTC + 2 hrs)","titlePadding":10}},
"y":{"field":"v","type":"quantitative","scale":{"domain":[0,15],"nice":false},"axis":null}}},
{"data":{"name":"jno2"},"mark":{"type":"line","color":"#111111","strokeWidth":1.5},"encoding":{
"x":{"field":"t","type":"quantitative","scale":{"domain":[0,24],"nice":false},"axis":{"values":[0,1.5,3,4.5,6,7.5,9,10.5,12,13.5,15,16.5,18,19.5,21,22.5,24],"labelExpr":"datum.value % 3 === 0 ? ((datum.value < 10 ? '0' : '') + datum.value + ':00') : ''","labelFlush":false,"labelOverlap":false,"labelPadding":15,"tickSize":{"condition":{"test":"datum.value % 3 === 0","value":-9},"value":-5},"title":"Time (UTC + 2 hrs)","titlePadding":10}},
"y":{"field":"v","type":"quantitative","scale":{"domain":[0,6],"nice":false},"axis":null}}},
{"data":{"name":"jlabels"},"mark":{"type":"text","font":"Liberation Sans","fontSize":15,"color":"#222222","align":"center","baseline":"middle"},"encoding":{
"x":{"field":"t","type":"quantitative","scale":{"domain":[0,24],"nice":false},"axis":{"values":[0,1.5,3,4.5,6,7.5,9,10.5,12,13.5,15,16.5,18,19.5,21,22.5,24],"labelExpr":"datum.value % 3 === 0 ? ((datum.value < 10 ? '0' : '') + datum.value + ':00') : ''","labelFlush":false,"labelOverlap":false,"labelPadding":15,"tickSize":{"condition":{"test":"datum.value % 3 === 0","value":-9},"value":-5},"title":"Time (UTC + 2 hrs)","titlePadding":10}},
"y":{"field":"v","type":"quantitative","scale":{"domain":[0,6],"nice":false},"axis":null},
"text":{"field":"label"}}}
]}
]
}
